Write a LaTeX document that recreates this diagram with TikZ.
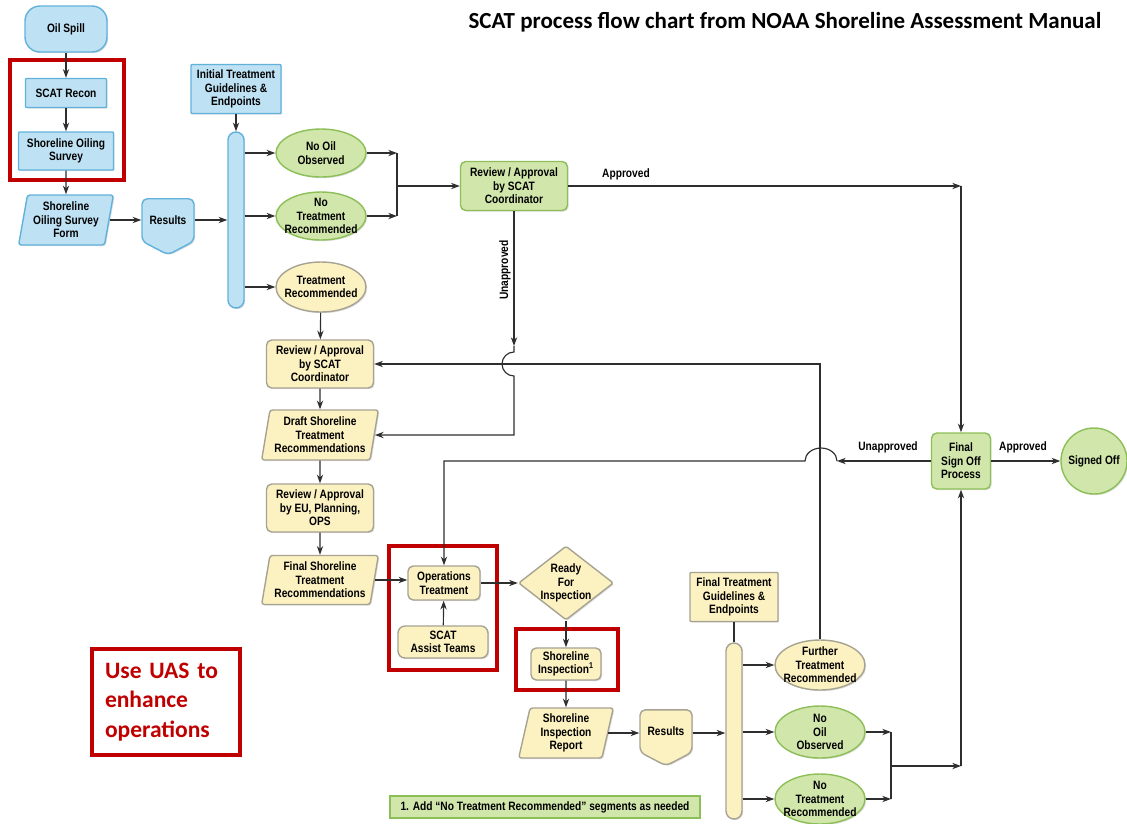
\documentclass[tikz,border=0pt]{standalone}
\usepackage{fontspec}
\newfontfamily\nodefont{Liberation Sans}[FakeStretch=0.84]
\newfontfamily\calfont{Carlito}
\usetikzlibrary{arrows.meta, shapes.geometric, shapes.symbols, shadows}
\definecolor{bluefill}{HTML}{BEE2F4}
\definecolor{bluedraw}{HTML}{62B1DB}
\definecolor{greenfill}{HTML}{D1E6AB}
\definecolor{greendraw}{HTML}{8DBF58}
\definecolor{yellowfill}{HTML}{FCF1C1}
\definecolor{yellowdraw}{HTML}{A6A392}
\definecolor{uasred}{HTML}{C00000}
\definecolor{linegray}{HTML}{2E2E2E}

\begin{document}
\begin{tikzpicture}[x=0.02cm, y=-0.02cm, % one unit = one pixel of the chart
          > = {Stealth[length=5pt, width=3.6pt]},
every node/.style = {font=\nodefont\bfseries\fontsize{6.9}{7.6}\selectfont,
              align=center, inner sep=0pt},
px size/.style args = {#1x#2}{minimum width=#1*0.02cm, minimum height=#2*0.02cm},
flow/.style = {line width=0.8pt,
              drop shadow={shadow xshift=0.7pt, shadow yshift=-0.7pt, opacity=0.25}},
scat blue/.style   = {flow, fill=bluefill, draw=bluedraw},
scat green/.style  = {flow, fill=greenfill, draw=greendraw},
scat yellow/.style = {flow, fill=yellowfill, draw=yellowdraw},
terminal/.style = {rectangle, rounded corners=0.3cm},
proc/.style     = {rectangle, rounded corners=3pt},
sqbox/.style    = {rectangle, rounded corners=0.5pt},
pgram/.style    = {trapezium, trapezium left angle=78, trapezium right angle=102,
                   trapezium stretches=true, rounded corners=1.5pt},
oval/.style     = {ellipse, inner sep=-20pt},
decision/.style = {diamond, inner sep=-20pt, rounded corners=1pt},
offpage/.style  = {signal, signal to=south, signal pointer angle=125,
                   rounded corners=3pt},
bar/.style      = {rectangle, rounded corners=0.16cm},
conn/.style     = {draw=linegray, line width=0.65pt},
redframe/.style = {draw=uasred, line width=1.8pt}
                    ]
    \useasboundingbox (0,0) rectangle (1127,823);

    % title
    \node (title) [font=\calfont\bfseries\fontsize{13.1}{15}\selectfont] at (785,22)
        {SCAT process flow chart from NOAA Shoreline Assessment Manual};

    % left column
    \node (spill)  [terminal, scat blue, px size=82x46] at (66,29) {Oil Spill};
    \node (recon)  [proc, rounded corners=0.5pt, scat blue, px size=81x29] at (66,93) {SCAT Recon};
    \node (survey) [proc, rounded corners=0.5pt, scat blue, px size=95x38] at (66,151) {Shoreline Oiling\\Survey};
    \node (form)   [pgram, scat blue, px size=95x50] at (66,220) {Shoreline\\Oiling Survey\\Form};
    \node (res1)   [offpage, scat blue, px size=52x52] at (168,220) {Results};

    % first split
    \node (itg)    [sqbox, scat blue, px size=90x49] at (236,89) {Initial Treatment\\Guidelines \&\\Endpoints};
    \node (bar1)   [bar, scat blue, px size=16x176] at (236,220) {};
    \node (noOil1) [oval, scat green, px size=90x48] at (321,153) {No Oil\\Observed};
    \node (noTr1)  [oval, scat green, px size=90x48] at (321,216) {No\\Treatment\\Recommended};
    \node (treat)  [oval, scat yellow, px size=90x50] at (321,287) {Treatment\\Recommended};
    \node (rev1)   [proc, scat green, px size=107x49] at (514,186) {Review / Approval\\by SCAT\\Coordinator};

    % treatment column
    \node (rev2)   [proc, scat yellow, px size=107x48] at (320,364) {Review / Approval\\by SCAT\\Coordinator};
    \node (draft)  [pgram, scat yellow, px size=117x50] at (320,435) {Draft Shoreline\\Treatment\\Recommendations};
    \node (revEU)  [proc, scat yellow, px size=107x48] at (320,508) {Review / Approval\\by EU, Planning,\\OPS};
    \node (final)  [pgram, scat yellow, px size=117x49] at (320,580) {Final Shoreline\\Treatment\\Recommendations};
    \node (ops)    [proc, scat yellow, px size=72x34] at (444,583) {Operations\\Treatment};
    \node (assist) [proc, rounded corners=4pt, scat yellow, px size=90x32] at (443,642) {SCAT\\Assist Teams};
    \node (ready)  [decision, scat yellow, px size=95x74] at (566,583) {Ready\\For\\Inspection};
    \node (insp)   [proc, scat yellow, px size=70x32] at (566,664) {Shoreline\\Inspection\textsuperscript{1}};
    \node (report) [pgram, scat yellow, px size=95x50] at (566,733) {Shoreline\\Inspection\\Report};
    \node (res2)   [offpage, scat yellow, px size=52x52] at (666,731) {Results};

    % second split
    \node (ftg)    [sqbox, scat yellow, px size=88x49] at (734,597) {Final Treatment\\Guidelines \&\\Endpoints};
    \node (bar2)   [bar, scat yellow, px size=16x176] at (734,731) {};
    \node (fur)    [oval, scat yellow, px size=90x50] at (820,665) {Further\\Treatment\\Recommended};
    \node (noOil2) [oval, scat green, px size=90x52] at (820,732) {No\\Oil\\Observed};
    \node (noTr2)  [oval, scat green, px size=90x50] at (820,799) {No\\Treatment\\Recommended};
    \node (fso)    [proc, scat green, px size=59x56] at (961,461) {Final\\Sign Off\\Process};
    \node (signed) [circle, scat green, px size=66x66] at (1094,461) {Signed Off};

    % footnote and remarks
    \node (note)   [rectangle, fill=greenfill, draw=greendraw, line width=0.6pt, px size=310x22] at (545,807)
        {1. Add “No Treatment Recommended” segments as needed};
    \node (uas)    [redframe, align=left, px size=148x106, text width=122*0.02cm, text=uasred,
                    font=\calfont\bfseries\fontsize{13.4}{17}\selectfont] at (166,702)
        {Use UAS to\\enhance\\operations};
    \draw [redframe] (10,60) rectangle (124,180);
    \draw [redframe] (389,546) rectangle (497,670);
    \draw [redframe] (516,629) rectangle (618,690);

    % labels
    \node (apprA)   at (626,174) {Approved};
    \node (unapprA) [rotate=90] at (505,270) {Unapproved};
    \node (unapprB) at (888,447) {Unapproved};
    \node (apprB)   at (1023,447) {Approved};

    % left column links
    \draw [conn,->] (spill) -- (recon);
    \draw [conn,->] (recon) -- (survey);
    \draw [conn,->] (survey) -- (form);
    \draw [conn,->] (form.east) -- (form.east -| res1.west);
    \draw [conn,->] (res1.east |- form.east) -- (form.east -| bar1.west);
    \draw [conn,->] (itg) -- (bar1);
    \draw [conn,->] (bar1.east |- noOil1) -- (noOil1.west);
    \draw [conn,->] (bar1.east |- noTr1) -- (noTr1.west);
    \draw [conn,->] (bar1.east |- treat) -- (treat.west);

    % merge to first review
    \coordinate (j1) at (397,186);
    \draw [conn,->] (noOil1.east) -- (noOil1.east -| j1);
    \draw [conn,->] (noTr1.east) -- (noTr1.east -| j1);
    \draw [conn] (noOil1.east -| j1) -- (noTr1.east -| j1);
    \draw [conn,->] (j1) -- (rev1.west);
    \coordinate (a1) at (fso |- rev1);
    \draw [conn,->] (rev1.east) -- (a1);
    \draw [conn,->] (a1) -- (fso.north);

    % unapproved at first review, jumps over the return line
    \coordinate (u1) at (514,346);
    \coordinate (u1b) at (514,352);
    \coordinate (u1c) at (514,435);
    \draw [conn,->] (rev1.south) -- (u1);
    \draw [conn,->] (u1) -- (u1b) arc[start angle=90, end angle=270, radius=0.24cm]
        -- (u1c) -- (draft.east);

    % treatment column links
    \draw [conn,->] (treat) -- (rev2);
    \draw [conn,->] (rev2) -- (draft);
    \draw [conn,->] (draft) -- (revEU);
    \draw [conn,->] (revEU) -- (final);
    \draw [conn,->] (final.east) -- (final.east -| ops.west);
    \draw [conn,->] (assist) -- (ops);
    \draw [conn,->] (ops) -- (ready);
    \draw [conn,->] (ready) -- (insp);
    \draw [conn,->] (insp) -- (report);
    \draw [conn,->] (report.east) -- (report.east -| res2.west);
    \draw [conn,->] (res2.east |- report.east) -- (report.east -| bar2.west);

    % second split links
    \draw [conn] (ftg) -- (bar2);
    \draw [conn,->] (bar2.east |- fur) -- (fur.west);
    \draw [conn,->] (bar2.east |- noOil2) -- (noOil2.west);
    \draw [conn,->] (bar2.east |- noTr2) -- (noTr2.west);
    \coordinate (f1) at (820,364);
    \draw [conn,->] (fur.north) -- (f1) -- (rev2.east);

    \coordinate (j2) at (891,766);
    \draw [conn,->] (noOil2.east) -- (noOil2.east -| j2);
    \draw [conn,->] (noTr2.east) -- (noTr2.east -| j2);
    \draw [conn] (noOil2.east -| j2) -- (noTr2.east -| j2);
    \draw [conn,->] (j2) -- (fso |- j2);
    \draw [conn,->] (fso |- j2) -- (fso.south);

    % sign off
    \draw [conn,->] (fso) -- (signed);
    \coordinate (u2) at (837,461);
    \coordinate (u3) at (444,461);
    \draw [conn,->] (fso.west) -- (u2);
    \draw [conn,->] (u2) arc[start angle=0, end angle=180, x radius=0.32cm, y radius=0.26cm]
        -- (u3) -- (ops.north);
\end{tikzpicture}
\end{document}
